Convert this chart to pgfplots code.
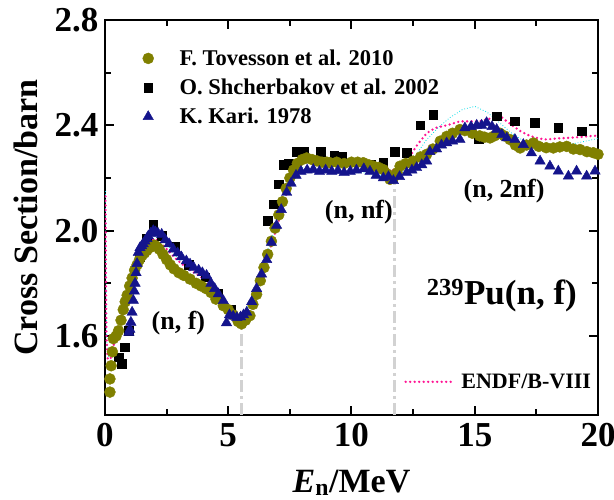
\documentclass[border=0pt]{standalone}
\usepackage{fontspec}
\setmainfont{Liberation Serif}
\usepackage{pgfplots}
\pgfplotsset{compat=1.18}
\definecolor{olivec}{RGB}{128,128,0}
\definecolor{navyc}{RGB}{20,20,140}
\definecolor{pinkc}{RGB}{255,20,147}
\definecolor{cyanc}{RGB}{0,220,230}
\begin{document}
\begin{tikzpicture}
\path[use as bounding box] (-105pt,-85pt) rectangle (509pt,415pt);
\begin{axis}[
  at={(0pt,0pt)}, anchor=south west,
  width=493pt, height=395pt, scale only axis,
  xmin=0, xmax=20, ymin=1.3, ymax=2.8,
  xtick={0,5,10,15,20}, minor xtick={2.5,7.5,12.5,17.5},
  ytick={1.6,2.0,2.4,2.8}, minor ytick={1.8,2.2,2.6},
  yticklabels={1.6,2.0,2.4,2.8},
  xtick pos=both, ytick pos=both, tick align=inside,
  major tick length=9pt, minor tick length=6pt,
  xtick style={draw=black, line width=2pt},
  ytick style={draw=black, line width=2pt},
  axis line style={line width=2.5pt},
  unbounded coords=jump,
  tick label style={font=\fontsize{35}{40}\selectfont\bfseries},
  xticklabel style={yshift=-5pt},
  yticklabel style={xshift=-3pt},
  label style={font=\fontsize{34}{40}\selectfont\bfseries},
  xlabel={\textit{E}\textsubscript{n}/MeV},
  ylabel={Cross Section/barn},
  xlabel style={at={(axis description cs:0.5,-0.172)}, anchor=center},
  ylabel style={at={(axis description cs:-0.16,0.5)}, anchor=center},
  legend style={at={(rel axis cs:0.07,0.935)}, anchor=north west, draw=none, fill=none,
    font=\fontsize{22.5}{26}\selectfont\bfseries, row sep=8pt, column sep=12pt},
  legend cell align=left,
  /pgf/number format/assume math mode=true,
]
\addlegendimage{only marks, mark=*, olivec, mark size=5.5pt}
\addlegendentry{\hspace{12pt}F. Tovesson et al. 2010}
\addlegendimage{only marks, mark=square*, black, mark size=4.3pt}
\addlegendentry{\hspace{12pt}O. Shcherbakov et al. 2002}
\addlegendimage{only marks, mark=triangle*, navyc, mark size=6pt}
\addlegendentry{\hspace{12pt}K. Kari. 1978}

% tick marks (inside, both sides)
\addplot[black, line width=2pt, forget plot] coordinates {
(2.5,1.3) (2.5,1.319) (2.5,nan) (5,1.3) (5,1.3304) (5,nan) (7.5,1.3) (7.5,1.319) (7.5,nan)
(10,1.3) (10,1.3304) (10,nan) (12.5,1.3) (12.5,1.319) (12.5,nan) (15,1.3) (15,1.3304) (15,nan)
(17.5,1.3) (17.5,1.319)};
\addplot[black, line width=2pt, forget plot] coordinates {
(2.5,2.8) (2.5,2.781) (2.5,nan) (5,2.8) (5,2.7696) (5,nan) (7.5,2.8) (7.5,2.781) (7.5,nan)
(10,2.8) (10,2.7696) (10,nan) (12.5,2.8) (12.5,2.781) (12.5,nan) (15,2.8) (15,2.7696) (15,nan)
(17.5,2.8) (17.5,2.781)};
\addplot[black, line width=2pt, forget plot] coordinates {
(0,1.6) (0.3245,1.6) (nan,1.6) (0,1.8) (0.203,1.8) (nan,1.8) (0,2.0) (0.3245,2.0) (nan,2.0)
(0,2.2) (0.203,2.2) (nan,2.2) (0,2.4) (0.3245,2.4) (nan,2.4) (0,2.6) (0.203,2.6)};
\addplot[black, line width=2pt, forget plot] coordinates {
(20,1.6) (19.6755,1.6) (nan,1.6) (20,1.8) (19.797,1.8) (nan,1.8) (20,2.0) (19.6755,2.0) (nan,2.0)
(20,2.2) (19.797,2.2) (nan,2.2) (20,2.4) (19.6755,2.4) (nan,2.4) (20,2.6) (19.797,2.6)};

% vertical dash-dot lines
\addplot[gray!35, line width=3pt, dash pattern=on 12pt off 4pt on 3pt off 4pt, forget plot] coordinates {(5.52,1.3) (5.52,1.645)};
\addplot[gray!35, line width=3pt, dash pattern=on 12pt off 4pt on 3pt off 4pt, forget plot] coordinates {(11.76,1.3) (11.76,2.2)};

% Shcherbakov 2002
\addplot[only marks, mark=square*, black, mark size=4.3pt, forget plot] coordinates {
(0.55,1.52) (0.68,1.494) (0.81,1.557) (0.95,1.62) (1.40,1.90) (1.70,1.97) (1.96,2.024)
(2.30,1.98) (2.84,1.94) (3.40,1.87) (4.06,1.824) (4.60,1.76) (5.10,1.70) (5.50,1.66)
(6.60,2.037) (6.85,2.10) (7.05,2.176) (7.25,2.25) (7.45,2.255) (7.75,2.30) (8.05,2.30)
(8.75,2.30) (9.30,2.285) (9.60,2.28) (10.80,2.25) (11.29,2.258) (11.76,2.30) (12.24,2.296)
(12.78,2.40) (13.32,2.44) (15.15,2.35) (15.89,2.434) (16.63,2.415) (17.44,2.41)
(18.39,2.39) (19.34,2.377)};

% Tovesson 2010
\addplot[only marks, mark=*, olivec, mark size=5.5pt, forget plot] coordinates {
(0.20,1.387) (0.20,1.437) (0.25,1.487) (0.30,1.54) (0.34,1.59) (0.45,1.60) (0.55,1.62)
(0.65,1.66) (0.74,1.70) (0.82,1.73) (0.90,1.755) (1.00,1.79) (1.10,1.82) (1.20,1.85)
(1.30,1.87) (1.40,1.89) (1.50,1.905) (1.60,1.915) (1.70,1.925) (1.80,1.935) (1.90,1.94)
(2.00,1.945) (2.10,1.94) (2.20,1.93) (2.35,1.91) (2.50,1.89) (2.65,1.87) (2.80,1.855)
(3.00,1.84) (3.20,1.83) (3.45,1.816) (3.70,1.80) (3.90,1.79) (4.10,1.78) (4.30,1.765)
(4.50,1.74) (4.80,1.715) (5.00,1.70) (5.20,1.68) (5.40,1.655) (5.54,1.646) (5.70,1.66)
(5.88,1.677) (6.00,1.72) (6.15,1.758) (6.30,1.81) (6.45,1.86) (6.60,1.91) (6.75,1.96)
(6.90,2.01) (7.05,2.06) (7.20,2.11) (7.35,2.16) (7.50,2.20) (7.65,2.23) (7.80,2.255)
(8.00,2.27) (8.18,2.276) (8.40,2.27) (8.60,2.265) (8.80,2.26) (9.00,2.26) (9.13,2.258)
(9.40,2.26) (9.70,2.255) (10.00,2.26) (10.25,2.26) (10.48,2.258) (10.70,2.25) (10.88,2.245)
(11.10,2.24) (11.29,2.232) (11.45,2.215) (11.56,2.195) (11.70,2.20) (11.85,2.22) (11.97,2.245)
(12.20,2.255) (12.50,2.264) (12.80,2.28) (13.05,2.29) (13.30,2.31) (13.60,2.34) (13.86,2.358)
(14.10,2.37) (14.40,2.384) (14.60,2.38) (14.90,2.37) (15.20,2.36) (15.40,2.355) (15.62,2.352)
(15.80,2.36) (16.02,2.37) (16.20,2.36) (16.43,2.346) (16.65,2.325) (16.84,2.314) (17.10,2.325)
(17.38,2.333) (17.60,2.32) (17.90,2.315) (18.19,2.314) (18.45,2.318) (18.73,2.32) (19.00,2.31)
(19.27,2.308) (19.55,2.30) (19.81,2.296) (20.00,2.29)};

% Kari 1978
\addplot[only marks, mark=triangle*, navyc, mark size=6pt, forget plot] coordinates {
(0.97,1.614) (1.01,1.625) (1.05,1.652) (1.10,1.69) (1.15,1.735) (1.19,1.77) (1.22,1.80)
(1.26,1.84) (1.30,1.875) (1.35,1.917) (1.42,1.935) (1.49,1.942) (1.55,1.95) (1.62,1.96)
(1.70,1.97) (1.76,1.98) (1.85,1.99) (1.96,2.00) (2.05,1.995) (2.15,1.99) (2.30,1.986)
(2.45,1.965) (2.60,1.95) (2.77,1.93) (2.95,1.915) (3.10,1.90) (3.30,1.885) (3.45,1.873)
(3.60,1.86) (3.80,1.85) (3.95,1.84) (4.12,1.83) (4.30,1.80) (4.45,1.78) (4.60,1.76)
(4.80,1.734) (4.93,1.65) (5.05,1.68) (5.20,1.675) (5.35,1.67) (5.50,1.672) (5.62,1.68)
(5.75,1.69) (5.95,1.73) (6.15,1.78) (6.35,1.835) (6.56,1.89) (6.75,1.955) (6.96,2.02)
(7.15,2.08) (7.37,2.145) (7.55,2.18) (7.75,2.21) (7.95,2.225) (8.20,2.23) (8.45,2.232)
(8.70,2.225) (8.95,2.23) (9.20,2.225) (9.45,2.228) (9.70,2.22) (9.95,2.225) (10.20,2.23)
(10.50,2.235) (10.75,2.225) (11.00,2.21) (11.29,2.20) (11.50,2.205) (11.70,2.19) (11.95,2.205)
(12.24,2.22) (12.45,2.23) (12.64,2.239) (12.85,2.25) (13.05,2.264) (13.18,2.30) (13.45,2.31)
(13.65,2.325) (13.86,2.333) (14.10,2.34) (14.40,2.346) (14.60,2.39) (14.85,2.395) (15.08,2.40)
(15.28,2.40) (15.48,2.41) (15.70,2.395) (15.89,2.384) (16.10,2.365) (16.30,2.352) (16.63,2.346)
(16.97,2.327) (17.30,2.295) (17.65,2.264) (18.05,2.245) (18.39,2.226) (18.80,2.207) (19.13,2.226)
(19.54,2.207) (19.88,2.226)};

% cyan thin dotted evaluation
\addplot[cyanc, line width=0.8pt, dotted, forget plot] coordinates {
(0.02,2.15) (0.04,1.80) (0.07,1.58) (0.15,1.52) (0.4,1.57) (0.8,1.70) (1.2,1.84) (1.6,1.95)
(2.0,1.98) (2.5,1.95) (3.0,1.89) (3.5,1.86) (4.0,1.83) (4.5,1.77) (5.0,1.70) (5.5,1.67)
(6.0,1.74) (6.5,1.89) (7.0,2.04) (7.5,2.18) (8.0,2.24) (9.0,2.23) (10.0,2.22) (10.48,2.22)
(11.16,2.21) (11.7,2.21) (12.0,2.22) (12.5,2.27) (13.0,2.34) (13.5,2.39) (14.0,2.43)
(14.5,2.46) (15.0,2.472) (15.5,2.45) (16.0,2.41) (16.5,2.37) (17.0,2.34) (17.5,2.33)
(18.0,2.32) (18.5,2.32) (19.0,2.33) (19.5,2.34) (20.0,2.35)};

% ENDF/B-VIII
\addplot[pinkc, line width=2.6pt, line cap=round, dash pattern=on 0pt off 4.5pt, forget plot] coordinates {
(0.02,2.13) (0.04,1.80) (0.06,1.60) (0.10,1.52) (0.15,1.50) (0.25,1.52) (0.34,1.563)
(0.45,1.59) (0.54,1.62) (0.64,1.655) (0.74,1.69) (0.85,1.72) (0.95,1.753) (1.08,1.79)
(1.20,1.82) (1.35,1.86) (1.50,1.89) (1.65,1.92) (1.80,1.95) (1.96,1.968) (2.10,1.965)
(2.30,1.95) (2.55,1.925) (2.80,1.90) (3.10,1.875) (3.45,1.85) (3.80,1.83) (4.10,1.81)
(4.40,1.785) (4.70,1.745) (5.00,1.705) (5.20,1.685) (5.40,1.672) (5.60,1.675) (5.80,1.70)
(6.00,1.745) (6.20,1.80) (6.40,1.855) (6.56,1.89) (6.80,1.96) (7.00,2.02) (7.20,2.085)
(7.40,2.15) (7.60,2.21) (7.80,2.255) (8.05,2.27) (8.40,2.268) (8.80,2.262) (9.13,2.258)
(9.60,2.255) (10.00,2.25) (10.48,2.245) (11.00,2.24) (11.29,2.235) (11.56,2.232) (11.70,2.228)
(11.90,2.235) (12.10,2.26) (12.37,2.283) (12.70,2.33) (13.05,2.37) (13.40,2.39) (13.86,2.40)
(14.40,2.415) (14.80,2.415) (15.20,2.415) (15.60,2.425) (15.90,2.434) (16.10,2.43) (16.30,2.415)
(16.56,2.397) (16.90,2.375) (17.24,2.36) (17.60,2.35) (17.92,2.346) (18.30,2.35) (18.73,2.352)
(19.20,2.355) (19.80,2.36) (20.00,2.36)};

% ENDF legend sample
\addplot[pinkc, line width=2.6pt, line cap=round, dash pattern=on 0pt off 4.5pt, forget plot] coordinates {(12.2,1.426) (14.07,1.426)};
\node[anchor=west, font=\fontsize{22}{26}\selectfont\bfseries, inner sep=0pt] at (axis cs:14.45,1.426) {ENDF/B-VIII};

% annotations
\node[font=\fontsize{26}{30}\selectfont\bfseries] at (axis cs:2.98,1.65) {(n, f)};
\node[font=\fontsize{26}{30}\selectfont\bfseries] at (axis cs:10.3,2.07) {(n, nf)};
\node[font=\fontsize{26}{30}\selectfont\bfseries] at (axis cs:16.19,2.149) {(n, 2nf)};
\node[font=\fontsize{35}{40}\selectfont\bfseries] at (axis cs:16.1,1.752) {\textsuperscript{239}Pu(n, f)};
\end{axis}
\end{tikzpicture}
\end{document}
